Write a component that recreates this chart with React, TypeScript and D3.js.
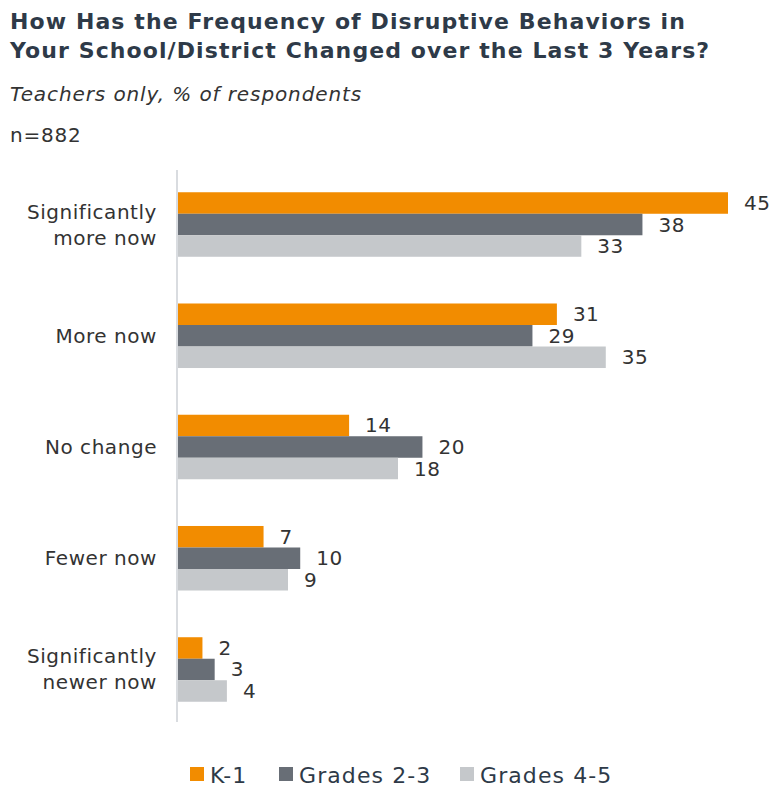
import React from "react";
import * as d3 from "d3";

const categories = [
  ["Significantly", "more now"],
  ["More now"],
  ["No change"],
  ["Fewer now"],
  ["Significantly", "newer now"],
];
const seriesNames = ["K-1", "Grades 2-3", "Grades 4-5"];
const k1 = [45, 31, 14, 7, 2];
const grades23 = [38, 29, 20, 10, 3];
const grades45 = [33, 35, 18, 9, 4];
const colors = ["#f28c00", "#686e76", "#c5c8cb"];

const W = 782;
const H = 790;
const FONT = "'DejaVu Sans', Verdana, sans-serif";

const App: React.FC = () => {
  const series = [k1, grades23, grades45];
  const x = d3.scaleLinear().domain([0, 45]).range([178, 728]);
  const y = d3
    .scaleBand<number>()
    .domain(d3.range(categories.length))
    .range([170, 724])
    .paddingInner(0.42)
    .paddingOuter(0.2);
  const inner = d3
    .scaleBand<number>()
    .domain(d3.range(seriesNames.length))
    .range([0, y.bandwidth()]);

  const legendX = [190, 279, 460];

  return (
    <svg width={W} height={H} style={{ position: "absolute", left: 0, top: 0, background: "#fff" }}>
      <g fontFamily={FONT}>
        <text x={10} y={29} fontSize={22} fontWeight="bold" fill="#2e3a48" letterSpacing={1.1}>
          How Has the Frequency of Disruptive Behaviors in
        </text>
        <text x={10} y={58} fontSize={22} fontWeight="bold" fill="#2e3a48" letterSpacing={1.1}>
          Your School/District Changed over the Last 3 Years?
        </text>
        <text x={10} y={101} fontSize={20} fontStyle="italic" fill="#333" letterSpacing={0.9}>
          Teachers only, % of respondents
        </text>
        <text x={10} y={142} fontSize={20} fill="#333" letterSpacing={0.8}>
          n=882
        </text>

        {categories.map((lines, i) => {
          const cy = (y(i) as number) + y.bandwidth() / 2;
          const lh = 26;
          const y0 = cy - ((lines.length - 1) * lh) / 2 + 7;
          return (
            <g key={i}>
              {lines.map((ln, j) => (
                <text
                  key={j}
                  x={157}
                  y={y0 + j * lh}
                  textAnchor="end"
                  fontSize={20}
                  fill="#333"
                  letterSpacing={0.55}
                >
                  {ln}
                </text>
              ))}
              {series.map((vals, s) => {
                const by = (y(i) as number) + (inner(s) as number);
                return (
                  <g key={s}>
                    <rect
                      x={x(0)}
                      y={by}
                      width={x(vals[i]) - x(0)}
                      height={inner.bandwidth()}
                      fill={colors[s]}
                    />
                    <text
                      x={x(vals[i]) + 16}
                      y={by + inner.bandwidth() / 2 + 7}
                      fontSize={20}
                      fill="#333"
                      letterSpacing={0.5}
                    >
                      {vals[i]}
                    </text>
                  </g>
                );
              })}
            </g>
          );
        })}

        <line x1={177} x2={177} y1={170} y2={722} stroke="#d9dce0" strokeWidth={2} />

        {seriesNames.map((name, s) => (
          <g key={name}>
            <rect x={legendX[s]} y={767} width={14} height={14} fill={colors[s]} />
            <text x={legendX[s] + 20} y={783} fontSize={22} fill="#2e3a48" letterSpacing={1.1}>
              {name}
            </text>
          </g>
        ))}
      </g>
    </svg>
  );
};

export default App;
